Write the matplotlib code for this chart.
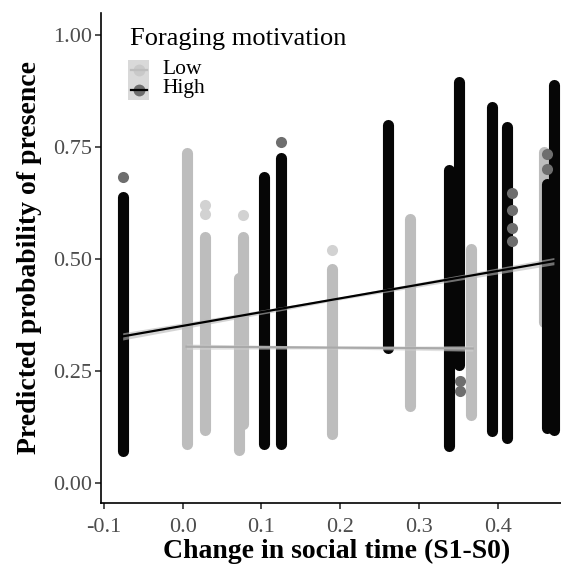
import numpy as np
import matplotlib.pyplot as plt
from matplotlib.patches import Rectangle
from matplotlib.lines import Line2D

plt.rcParams['font.family'] = ['Liberation Serif', 'DejaVu Serif']

# dense columns of predicted points (x, lowest point, highest point)
high_x = [-0.076, 0.103, 0.125, 0.260, 0.338, 0.350, 0.392, 0.412, 0.462, 0.471]
high_lo = [0.072, 0.086, 0.086, 0.302, 0.082, 0.262, 0.115, 0.101, 0.122, 0.119]
high_hi = [0.638, 0.683, 0.725, 0.798, 0.698, 0.895, 0.839, 0.794, 0.668, 0.888]
# lone points (lighter, seen apart from the columns)
high_out_x = [-0.076, 0.125, 0.352, 0.352, 0.418, 0.418, 0.418, 0.418, 0.462, 0.462]
high_out_y = [0.683, 0.761, 0.228, 0.205, 0.648, 0.610, 0.570, 0.540, 0.700, 0.735]

low_x = [0.006, 0.029, 0.071, 0.077, 0.190, 0.289, 0.366, 0.458]
low_lo = [0.086, 0.119, 0.074, 0.132, 0.108, 0.172, 0.152, 0.360]
low_hi = [0.736, 0.548, 0.457, 0.548, 0.478, 0.588, 0.523, 0.738]
low_out_x = [0.029, 0.029, 0.077, 0.190]
low_out_y = [0.620, 0.600, 0.597, 0.519]

# fitted lines and their confidence bands
high_fit_x = [-0.076, 0.197, 0.471]
high_fit_y = [0.327, 0.411, 0.495]
high_fit_se = [0.008, 0.003, 0.008]
low_fit_x = [0.005, 0.187, 0.368]
low_fit_y = [0.304, 0.302, 0.300]
low_fit_se = [0.006, 0.003, 0.006]

x_ticks = [-0.1, 0.0, 0.1, 0.2, 0.3, 0.4]
x_tick_labels = ['-0.1', '0.0', '0.1', '0.2', '0.3', '0.4']
y_ticks = [0.0, 0.25, 0.5, 0.75, 1.0]
y_tick_labels = ['0.00', '0.25', '0.50', '0.75', '1.00']

W, H = 561, 566
fig = plt.figure(figsize=(W / 100, H / 100), dpi=100)
ax = fig.add_axes([101 / W, 1 - 503 / H, 1 - 101 / W, (503 - 13) / H])

dot_lw = 8.0  # pt, about one point diameter
ax.vlines(low_x, low_lo, low_hi, colors='#bdbdbd', linewidth=dot_lw,
          capstyle='round', zorder=2)
ax.scatter(low_out_x, low_out_y, s=dot_lw ** 2, color='#d2d2d2', lw=0, zorder=2)
ax.vlines(high_x, high_lo, high_hi, colors='#060606', linewidth=dot_lw,
          capstyle='round', zorder=3)
ax.scatter(high_out_x, high_out_y, s=dot_lw ** 2, color='#6e6e6e', lw=0, zorder=3)

hy = np.array(high_fit_y)
hs = np.array(high_fit_se)
ax.fill_between(high_fit_x, hy - hs, hy + hs, color='#b8b8b8', alpha=0.6, lw=0, zorder=4)
ax.plot(high_fit_x, high_fit_y, color='black', lw=1.6, zorder=5)
ly = np.array(low_fit_y)
ls = np.array(low_fit_se)
ax.fill_between(low_fit_x, ly - ls, ly + ls, color='#d0d0d0', alpha=0.6, lw=0, zorder=4)
ax.plot(low_fit_x, low_fit_y, color='#a9a9a9', lw=1.6, zorder=5)

ax.set_xlim(-0.1035, 0.48)
ax.set_ylim(-0.045, 1.049)
ax.set_xticks(x_ticks)
ax.set_xticklabels(x_tick_labels)
ax.set_yticks(y_ticks)
ax.set_yticklabels(y_tick_labels)
for s in ['top', 'right']:
    ax.spines[s].set_visible(False)
for s in ['left', 'bottom']:
    ax.spines[s].set_linewidth(1.2)
ax.tick_params(direction='out', length=4, width=1.2, color='#333333',
               labelcolor='#4d4d4d', labelsize=16)
ax.tick_params(axis='x', pad=6.5)
ax.tick_params(axis='y', pad=2.5)
ax.set_xlabel('Change in social time (S1-S0)', fontsize=20, fontweight='bold')
ax.xaxis.set_label_coords((336.5 - 101) / (W - 101), -(539 - 503) / (503 - 13))
ax.set_ylabel('Predicted probability of presence', fontsize=20, fontweight='bold')
ax.yaxis.set_label_coords(-(101 - 42) / (W - 101), (503 - 257.5) / (503 - 13))

# legend drawn in figure pixels (ggplot style keys)
def px(x, y):
    return x / W, 1 - y / H

fig.text(*px(130, 39), 'Foraging motivation', fontsize=19, va='center', ha='left')
for i, (lab, dot_c, line_c) in enumerate([('Low', '#c9c9c9', '#bdbdbd'),
                                          ('High', '#6e6e6e', 'black')]):
    top = 60 + 20 * i
    x0, y0 = px(128, top + 20)
    fig.add_artist(Rectangle((x0, y0), 21 / W, 20 / H, transform=fig.transFigure,
                             facecolor='#d9d9d9', lw=0))
    cx, cy = px(138.5, top + 10)
    fig.add_artist(Line2D([cx], [cy], marker='o', ms=8.5, mew=0, color=dot_c,
                          transform=fig.transFigure))
    fig.add_artist(Line2D([cx - 8 / W, cx + 8 / W], [cy, cy], lw=1.6, color=line_c,
                          transform=fig.transFigure))
    fig.text(*px(162, top + 9), lab, fontsize=15.5, va='center', ha='left')

fig.savefig('out.png', dpi=100)
